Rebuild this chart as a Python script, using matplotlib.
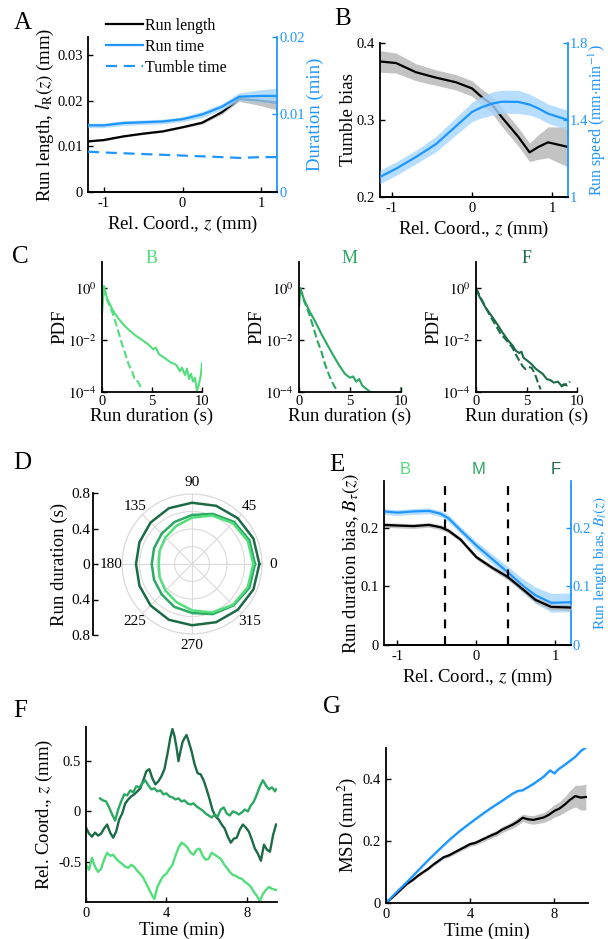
import numpy as np
import matplotlib
matplotlib.use('Agg')
import matplotlib.pyplot as plt

plt.rcParams['font.family'] = ['Liberation Serif', 'DejaVu Serif']
plt.rcParams['mathtext.fontset'] = 'stix'
plt.rcParams['xtick.direction'] = 'in'
plt.rcParams['ytick.direction'] = 'in'
plt.rcParams['axes.linewidth'] = 1.3
plt.rcParams['xtick.major.width'] = 1.0
plt.rcParams['ytick.major.width'] = 1.0
plt.rcParams['xtick.major.size'] = 3.5
plt.rcParams['ytick.major.size'] = 3.5
plt.rcParams['xtick.labelsize'] = 10.5
plt.rcParams['ytick.labelsize'] = 10.5
plt.rcParams['axes.labelsize'] = 13.5

# ---------------- data ----------------
# Panel A
zA = [-1.2, -1.0, -0.75, -0.5, -0.25, 0.0, 0.25, 0.5, 0.72, 1.0, 1.2]
run_length = [0.0111, 0.0114, 0.0122, 0.0128, 0.0133, 0.0142, 0.0152, 0.0175, 0.0204, 0.0200, 0.0196]
run_length_err = [0.0002, 0.0002, 0.0002, 0.0002, 0.0002, 0.0002, 0.0003, 0.0004, 0.0005, 0.0011, 0.0016]
run_time = [0.0086, 0.0086, 0.0089, 0.0090, 0.0091, 0.0094, 0.0100, 0.0110, 0.0123, 0.0124, 0.0124]
run_time_err = [0.0003, 0.0003, 0.0003, 0.0003, 0.0003, 0.0003, 0.0004, 0.0004, 0.0005, 0.0008, 0.0010]
tumble_time = [0.0052, 0.0051, 0.0050, 0.0049, 0.0048, 0.0047, 0.0046, 0.0045, 0.0044, 0.0045, 0.0045]

# Panel B
zB = [-1.15, -0.95, -0.7, -0.45, -0.2, 0.0, 0.12, 0.25, 0.37, 0.58, 0.72, 0.83, 0.95, 1.2]
tumble_bias = [0.376, 0.374, 0.362, 0.355, 0.349, 0.341, 0.330, 0.320, 0.304, 0.278, 0.258, 0.265, 0.271, 0.265]
tumble_bias_err = [0.014, 0.013, 0.011, 0.010, 0.010, 0.010, 0.010, 0.011, 0.012, 0.012, 0.012, 0.016, 0.020, 0.026]
run_speed = [1.104, 1.147, 1.208, 1.275, 1.368, 1.442, 1.466, 1.485, 1.495, 1.494, 1.480, 1.460, 1.433, 1.400]
run_speed_err = [0.035, 0.035, 0.035, 0.040, 0.045, 0.050, 0.055, 0.060, 0.060, 0.060, 0.055, 0.050, 0.050, 0.050]

# Panel C (log10 PDF)
regions = ['B', 'M', 'F']
tB_solid = [0, 0.2, 0.5, 1.1, 1.6, 2.25, 2.8, 3.4, 4.0, 4.6, 5.1, 5.4, 5.7, 6.3, 6.9, 7.4, 7.8, 8.0, 8.3, 8.5, 8.7, 8.9, 9.1, 9.3, 9.5, 9.7, 9.9, 10.0]
lB_solid = [-1.0, 0.08, -0.4, -0.87, -1.15, -1.45, -1.65, -1.84, -2.0, -2.16, -2.35, -2.3, -2.55, -2.7, -2.87, -2.95, -3.2, -3.06, -3.35, -3.1, -3.5, -3.3, -3.6, -3.45, -3.95, -3.7, -3.3, -2.9]
tB_dash = [0.1, 0.5, 1.1, 1.5, 1.9, 2.3, 2.65, 3.0, 3.3, 3.6, 4.0]
lB_dash = [0.0, -0.45, -1.0, -1.5, -2.03, -2.5, -2.93, -3.2, -3.55, -3.6, -3.9]
tM_solid = [0, 0.12, 0.5, 1.0, 1.6, 2.2, 2.8, 3.3, 3.9, 4.5, 5.0, 5.3, 5.6, 5.9, 6.2, 6.5, 7.0, 7.5, 8.0]
lM_solid = [-0.75, 0.0, -0.45, -0.87, -1.3, -1.77, -2.2, -2.55, -2.95, -3.3, -3.45, -3.4, -3.6, -3.5, -3.75, -3.85, -4.0, -4.3, -4.6]
tM_dash = [0.12, 0.5, 1.0, 1.4, 1.8, 2.2, 2.55, 2.9, 3.2, 3.5, 3.8, 4.2]
lM_dash = [0.0, -0.5, -1.0, -1.5, -2.03, -2.45, -2.93, -3.3, -3.58, -3.8, -4.0, -4.3]
tM_tail = [9.95, 10.0]
lM_tail = [-4.2, -3.85]
tF_solid = [0, 0.3, 0.94, 1.5, 2.1, 2.6, 3.2, 3.6, 3.96, 4.3, 4.5, 4.7, 5.1, 5.5, 5.9, 6.2, 6.6, 7.0, 7.4, 7.7, 8.1, 8.5, 8.9]
lF_solid = [0.0, -0.3, -0.75, -1.05, -1.39, -1.7, -2.03, -2.2, -2.42, -2.5, -2.45, -2.68, -2.8, -2.93, -3.1, -3.19, -3.3, -3.5, -3.55, -3.64, -3.6, -3.77, -3.7]
tF_dash = [0, 0.5, 1.3, 1.9, 2.45, 3.0, 3.6, 4.0, 4.3, 4.6, 4.9, 5.2, 5.5, 5.85, 6.1, 6.4]
lF_dash = [0.0, -0.4, -1.0, -1.4, -1.77, -2.0, -2.29, -2.6, -2.8, -3.0, -3.12, -3.05, -3.06, -3.32, -3.6, -3.9]
tF_dash2 = [8.4, 8.7, 9.0, 9.3]
lF_dash2 = [-3.8, -3.7, -3.75, -3.6]

# Panel D (polar run duration vs angle)
theta_deg = [0, 22.5, 45, 67.5, 90, 112.5, 135, 157.5, 180, 202.5, 225, 247.5, 270, 292.5, 315, 337.5]
dur_F = [0.77, 0.76, 0.74, 0.72, 0.70, 0.69, 0.67, 0.65, 0.64, 0.65, 0.67, 0.69, 0.70, 0.72, 0.74, 0.76]
dur_M = [0.72, 0.71, 0.68, 0.62, 0.56, 0.52, 0.49, 0.47, 0.46, 0.47, 0.49, 0.53, 0.56, 0.62, 0.67, 0.71]
dur_B = [0.70, 0.69, 0.66, 0.60, 0.53, 0.47, 0.43, 0.40, 0.38, 0.40, 0.43, 0.47, 0.53, 0.60, 0.66, 0.69]

# Panel E
zE = [-1.17, -1.0, -0.8, -0.6, -0.45, -0.35, -0.2, 0.0, 0.2, 0.4, 0.6, 0.75, 0.95, 1.2]
dur_bias = [0.205, 0.204, 0.203, 0.205, 0.201, 0.195, 0.180, 0.150, 0.132, 0.116, 0.094, 0.077, 0.065, 0.064]
dur_bias_err = [0.004, 0.004, 0.004, 0.004, 0.004, 0.004, 0.004, 0.004, 0.004, 0.005, 0.005, 0.005, 0.005, 0.005]
len_bias = [0.228, 0.226, 0.228, 0.229, 0.224, 0.216, 0.196, 0.170, 0.147, 0.124, 0.100, 0.085, 0.072, 0.073]
len_bias_err = [0.005, 0.005, 0.005, 0.005, 0.005, 0.006, 0.006, 0.007, 0.008, 0.010, 0.012, 0.014, 0.016, 0.016]
zone_edges = [-0.4, 0.4]
zone_label_x = [-0.9, 0.03, 1.0]

# Panel F (trajectories)
tF_traj = [0, 0.15, 0.3, 0.45, 0.6, 0.75, 0.9, 1.05, 1.2, 1.35, 1.5, 1.65, 1.8, 1.95, 2.1, 2.25, 2.4, 2.55, 2.7,
           2.85, 3.0, 3.15, 3.3, 3.45, 3.6, 3.75, 3.9, 4.05, 4.2, 4.3, 4.4, 4.5, 4.6, 4.7, 4.8, 4.9, 5.0, 5.1, 5.25,
           5.4, 5.55, 5.7, 5.85, 6.0, 6.15, 6.3, 6.45, 6.6, 6.75, 6.9, 7.05, 7.2, 7.35, 7.5, 7.65, 7.8, 7.95, 8.1,
           8.25, 8.4, 8.55, 8.7, 8.85, 9.0, 9.15, 9.3, 9.45]
zF_traj = [-0.16, -0.22, -0.25, -0.21, -0.24, -0.22, -0.17, -0.13, -0.21, -0.26, -0.20, -0.08, -0.02, 0.08, 0.12,
           0.15, 0.17, 0.20, 0.23, 0.31, 0.40, 0.42, 0.33, 0.27, 0.30, 0.35, 0.42, 0.57, 0.74, 0.82, 0.75, 0.64,
           0.50, 0.60, 0.69, 0.73, 0.76, 0.70, 0.60, 0.47, 0.38, 0.37, 0.31, 0.22, 0.12, 0.01, -0.05, -0.08, -0.13,
           -0.17, -0.25, -0.31, -0.27, -0.26, -0.18, -0.13, -0.16, -0.20, -0.28, -0.37, -0.42, -0.49, -0.33, -0.38,
           -0.40, -0.24, -0.13]
tM_traj = [0.7, 0.85, 1.0, 1.15, 1.3, 1.45, 1.6, 1.75, 1.9, 2.05, 2.2, 2.35, 2.5, 2.65, 2.8, 2.95, 3.1, 3.25, 3.4,
           3.55, 3.7, 3.85, 4.0, 4.15, 4.3, 4.45, 4.6, 4.75, 4.9, 5.05, 5.2, 5.35, 5.5, 5.65, 5.8, 5.95, 6.1, 6.25,
           6.4, 6.55, 6.7, 6.85, 7.0, 7.15, 7.3, 7.45, 7.6, 7.75, 7.9, 8.05, 8.2, 8.35, 8.5, 8.65, 8.8, 8.95, 9.1,
           9.25, 9.4, 9.45]
zM_traj = [0.13, 0.11, 0.10, 0.04, -0.03, -0.09, 0.02, 0.10, 0.17, 0.16, 0.21, 0.19, 0.25, 0.24, 0.28, 0.31, 0.26,
           0.22, 0.23, 0.20, 0.21, 0.17, 0.18, 0.15, 0.14, 0.12, 0.13, 0.10, 0.11, 0.08, 0.07, 0.08, 0.05, 0.03, 0.01,
           -0.02, -0.04, -0.06, -0.03, -0.05, 0.02, 0.04, -0.02, -0.04, 0.00, -0.01, -0.03, -0.01, 0.02, 0.00, 0.06,
           0.10, 0.17, 0.25, 0.31, 0.26, 0.22, 0.24, 0.20, 0.22]
tB_traj = [0, 0.15, 0.3, 0.45, 0.6, 0.75, 0.9, 1.05, 1.2, 1.35, 1.5, 1.65, 1.8, 1.95, 2.1, 2.25, 2.4, 2.55, 2.7,
           2.85, 3.0, 3.15, 3.3, 3.4, 3.55, 3.7, 3.85, 4.0, 4.15, 4.3, 4.45, 4.6, 4.75, 4.9, 5.05, 5.2, 5.35, 5.5,
           5.65, 5.8, 5.95, 6.1, 6.25, 6.4, 6.55, 6.7, 6.85, 7.0, 7.15, 7.3, 7.45, 7.6, 7.75, 7.9, 8.05, 8.2, 8.35,
           8.5, 8.65, 8.8, 8.95, 9.1, 9.25, 9.45]
zB_traj = [-0.53, -0.58, -0.46, -0.55, -0.60, -0.57, -0.48, -0.41, -0.44, -0.43, -0.47, -0.50, -0.52, -0.55, -0.56,
           -0.53, -0.55, -0.59, -0.62, -0.66, -0.72, -0.78, -0.84, -0.87, -0.75, -0.69, -0.64, -0.62, -0.57, -0.53,
           -0.44, -0.36, -0.31, -0.33, -0.36, -0.41, -0.43, -0.38, -0.37, -0.44, -0.48, -0.47, -0.41, -0.43, -0.45,
           -0.47, -0.52, -0.56, -0.60, -0.63, -0.64, -0.66, -0.67, -0.70, -0.72, -0.75, -0.80, -0.84, -0.89, -0.82,
           -0.78, -0.75, -0.77, -0.78]

# Panel G (MSD)
tG_blue = [0, 0.5, 1, 1.5, 2, 2.5, 3, 3.5, 4, 4.5, 5, 5.5, 6, 6.25, 6.5, 7, 7.5, 7.8, 8.0, 8.2, 8.5, 9, 9.25, 9.5]
msd_blue = [0.0, 0.035, 0.068, 0.103, 0.138, 0.171, 0.203, 0.232, 0.258, 0.283, 0.307, 0.329, 0.352, 0.361, 0.364,
            0.384, 0.408, 0.428, 0.418, 0.432, 0.446, 0.472, 0.490, 0.502]
tG_black = [0, 0.25, 0.5, 0.75, 1, 1.25, 1.5, 1.75, 2, 2.25, 2.5, 2.75, 3, 3.25, 3.5, 3.75, 4, 4.25, 4.5, 4.75, 5,
            5.25, 5.5, 5.75, 6, 6.25, 6.5, 6.75, 7, 7.25, 7.5, 7.75, 8, 8.25, 8.5, 8.75, 9, 9.25, 9.5]
msd_black = [0.0, 0.015, 0.030, 0.046, 0.062, 0.073, 0.087, 0.099, 0.110, 0.124, 0.136, 0.148, 0.154, 0.163, 0.172,
             0.181, 0.190, 0.194, 0.202, 0.210, 0.218, 0.225, 0.236, 0.244, 0.252, 0.262, 0.275, 0.270, 0.268, 0.272,
             0.276, 0.285, 0.297, 0.305, 0.318, 0.333, 0.345, 0.340, 0.342]
msd_black_err = [0.0, 0.001, 0.002, 0.002, 0.003, 0.003, 0.004, 0.004, 0.004, 0.005, 0.005, 0.005, 0.006, 0.006,
                 0.006, 0.007, 0.007, 0.007, 0.008, 0.008, 0.009, 0.009, 0.010, 0.010, 0.011, 0.012, 0.012, 0.013,
                 0.014, 0.015, 0.016, 0.018, 0.020, 0.022, 0.025, 0.030, 0.035, 0.040, 0.042]

# ---------------- style ----------------
BLUE = '#1E96FF'
BLUE_BAND = '#A6D6FF'
GRAY_BAND = '#B4B4B4'
GREENS = {'B': '#52DE7C', 'M': '#2BA862', 'F': '#1C6B47'}

W, H = 608, 939
fig = plt.figure(figsize=(W / 100, H / 100), dpi=100)


def add_ax(l, t, r, b, **kw):
    return fig.add_axes([l / W, 1 - b / H, (r - l) / W, (b - t) / H], **kw)


def letter(x, y, s):
    fig.text(x / W, 1 - y / H, s, fontsize=18, ha='center', va='center')


def basic(ax):
    ax.spines['top'].set_visible(False)
    ax.spines['right'].set_visible(False)


xlab = 'Rel. Coord., $z$ (mm)'

# ---------------- A ----------------
axA = add_ax(88, 37, 277, 192)
basic(axA)
rl = np.array(run_length); rle = np.array(run_length_err)
axA.fill_between(zA, rl - rle, rl + rle, color=GRAY_BAND, alpha=0.8, lw=0)
hA1, = axA.plot(zA, run_length, color='k', lw=1.6)
axA.set_xlim(-1.2, 1.2)
axA.set_ylim(0, 0.034)
axA.set_xticks([-1, 0, 1]); axA.set_xticklabels(['-1', '0', '1'])
axA.set_yticks([0, 0.01, 0.02, 0.03]); axA.set_yticklabels(['0', '0.01', '0.02', '0.03'])
axA.set_ylabel('Run length, $l_{\\rm R}(z)$ (mm)', labelpad=1)
axA.set_xlabel(xlab, labelpad=3)
axA2 = axA.twinx()
axA2.spines['top'].set_visible(False)
axA2.spines['left'].set_visible(False)
axA2.spines['right'].set_color(BLUE)
rt = np.array(run_time); rte = np.array(run_time_err)
axA2.fill_between(zA, rt - rte, rt + rte, color=BLUE_BAND, alpha=0.8, lw=0)
hA2, = axA2.plot(zA, run_time, color=BLUE, lw=1.6)
hA3, = axA2.plot(zA, tumble_time, color=BLUE, lw=1.6, ls=(0, (5, 3)))
axA2.set_ylim(0, 0.02)
axA2.set_yticks([0, 0.01, 0.02]); axA2.set_yticklabels(['0', '0.01', '0.02'])
axA2.tick_params(axis='y', colors=BLUE, pad=2)
axA2.set_ylabel('Duration (min)', color=BLUE, labelpad=1)
fig.legend([hA1, hA2, hA3], ['Run length', 'Run time', 'Tumble time'], loc='upper left',
           bbox_to_anchor=(106 / W, 1 - 18 / H), frameon=False, fontsize=11.5, handlelength=2.3,
           handletextpad=0.15, labelspacing=0.3, borderpad=0, borderaxespad=0)

# ---------------- B ----------------
axB = add_ax(380, 43, 568, 197)
basic(axB)
tb = np.array(tumble_bias); tbe = np.array(tumble_bias_err)
axB.fill_between(zB, tb - tbe, tb + tbe, color=GRAY_BAND, alpha=0.8, lw=0)
axB.plot(zB, tumble_bias, color='k', lw=1.6)
axB.set_xlim(-1.15, 1.2)
axB.set_ylim(0.2, 0.4)
axB.set_xticks([-1, 0, 1]); axB.set_xticklabels(['-1', '0', '1'])
axB.set_yticks([0.2, 0.3, 0.4]); axB.set_yticklabels(['0.2', '0.3', '0.4'])
axB.set_ylabel('Tumble bias', labelpad=0)
axB.set_xlabel(xlab, labelpad=3)
axB2 = axB.twinx()
axB2.spines['top'].set_visible(False)
axB2.spines['left'].set_visible(False)
axB2.spines['right'].set_color(BLUE)
rs = np.array(run_speed); rse = np.array(run_speed_err)
axB2.fill_between(zB, rs - rse, rs + rse, color=BLUE_BAND, alpha=0.8, lw=0)
axB2.plot(zB, run_speed, color=BLUE, lw=1.6)
axB2.set_ylim(1.0, 1.8)
axB2.set_yticks([1.0, 1.4, 1.8]); axB2.set_yticklabels(['1', '1.4', '1.8'])
axB2.tick_params(axis='y', colors=BLUE, pad=1.5)
axB2.set_ylabel('Run speed (mm$\\cdot$min$^{-1}$)', color=BLUE, labelpad=-1, fontsize=11.5)

# ---------------- C ----------------
c_pos = [(102, 202), (299, 401), (476, 577)]
c_data = {
    'B': [(tB_solid, lB_solid, '-'), (tB_dash, lB_dash, '--')],
    'M': [(tM_solid, lM_solid, '-'), (tM_dash, lM_dash, '--'), (tM_tail, lM_tail, '-')],
    'F': [(tF_solid, lF_solid, '-'), (tF_dash, lF_dash, '--'), (tF_dash2, lF_dash2, '--')],
}
for (l, r), reg in zip(c_pos, regions):
    ax = add_ax(l, 262, r, 392)
    basic(ax)
    for t, lv, ls in c_data[reg]:
        ax.plot(t, 10.0 ** np.array(lv), color=GREENS[reg], lw=1.5, ls=ls)
    ax.set_yscale('log')
    ax.set_ylim(1e-4, 10)
    ax.set_xlim(0, 10)
    ax.set_yticks([1e-4, 1e-2, 1])
    ax.set_yticklabels(['$10^{-4}$', '$10^{-2}$', '$10^{0}$'])
    ax.minorticks_off()
    ax.set_xticks([0, 5, 10]); ax.set_xticklabels(['0', '5', '10'])
    ax.tick_params(axis='y', labelsize=10.5, pad=3.5)
    ax.tick_params(axis='x', labelsize=10.5, pad=2)
    ax.set_ylabel('PDF', labelpad=0)
    ax.set_xlabel('Run duration (s)', labelpad=0)
    ax.text(0.5, 1.03, reg, transform=ax.transAxes, ha='center', va='center', color=GREENS[reg], fontsize=13)

# ---------------- D ----------------
axDs = add_ax(93, 493, 100, 635)
for s in ['top', 'right', 'bottom']:
    axDs.spines[s].set_visible(False)
axDs.set_xticks([])
axDs.set_ylim(-0.8, 0.8)
axDs.set_yticks([-0.8, -0.4, 0, 0.4, 0.8])
axDs.set_yticklabels(['0.8', '0.4', '0', '0.4', '0.8'])
axDs.tick_params(axis='y', labelsize=11, pad=2)
axDs.set_ylabel('Run duration (s)', labelpad=2)
axDs.patch.set_visible(False)

axD = add_ax(122, 494, 262, 634, projection='polar')
th = np.deg2rad(theta_deg + [theta_deg[0]])
for vals, reg in [(dur_F, 'F'), (dur_M, 'M'), (dur_B, 'B')]:
    axD.plot(th, vals + [vals[0]], color=GREENS[reg], lw=1.8)
axD.set_rlim(0, 0.8)
axD.set_rticks([0.2, 0.4, 0.6, 0.8])
axD.set_yticklabels([])
axD.set_thetagrids([0, 45, 90, 135, 180, 225, 270, 315],
                   labels=['0', '45', '90', '135', '180', '225', '270', '315'])
axD.tick_params(axis='x', labelsize=11, pad=1)
axD.grid(color='#DADADA', lw=0.8)
axD.spines['polar'].set_color('#DADADA')
axD.spines['polar'].set_linewidth(0.8)

# ---------------- E ----------------
axE = add_ax(384, 481, 571, 645)
basic(axE)
db = np.array(dur_bias); dbe = np.array(dur_bias_err)
lb = np.array(len_bias); lbe = np.array(len_bias_err)
axE.fill_between(zE, db - dbe, db + dbe, color=GRAY_BAND, alpha=0.8, lw=0)
axE.plot(zE, dur_bias, color='k', lw=1.6, zorder=3)
for xe in zone_edges:
    axE.axvline(xe, color='k', lw=1.6, ls=(0, (4, 3.5)))
axE.set_xlim(-1.17, 1.2)
axE.set_ylim(0, 0.28)
axE.set_xticks([-1, 0, 1]); axE.set_xticklabels(['-1', '0', '1'])
axE.set_yticks([0, 0.1, 0.2]); axE.set_yticklabels(['0', '0.1', '0.2'])
axE.set_ylabel('Run duration bias, $B_{\\tau}(z)$', labelpad=0)
axE.set_xlabel(xlab, labelpad=3)
for xl, reg in zip(zone_label_x, regions):
    axE.text(xl, 1.07, reg, transform=axE.get_xaxis_transform(), ha='center', va='center',
             color=GREENS[reg], fontsize=12, family='Liberation Sans')
axE2 = axE.twinx()
axE2.spines['top'].set_visible(False)
axE2.spines['left'].set_visible(False)
axE2.spines['right'].set_color(BLUE)
axE2.fill_between(zE, lb - lbe, lb + lbe, color=BLUE_BAND, alpha=0.8, lw=0)
axE2.plot(zE, len_bias, color=BLUE, lw=1.6)
axE2.set_ylim(0, 0.28)
axE2.set_yticks([0, 0.1, 0.2]); axE2.set_yticklabels(['0', '0.1', '0.2'])
axE2.tick_params(axis='y', colors=BLUE, pad=1)
axE2.set_ylabel('Run length bias, $B_l(z)$', color=BLUE, labelpad=0, fontsize=11)
axE.set_zorder(axE2.get_zorder() + 1)
axE.patch.set_visible(False)

# ---------------- F ----------------
axF = add_ax(86, 727, 277, 902)
basic(axF)
axF.plot(tF_traj, zF_traj, color=GREENS['F'], lw=1.7)
axF.plot(tM_traj, zM_traj, color=GREENS['M'], lw=1.7)
axF.plot(tB_traj, zB_traj, color=GREENS['B'], lw=1.7)
axF.set_xlim(0, 9.5)
axF.set_ylim(-0.9, 0.84)
axF.set_xticks([0, 4, 8]); axF.set_xticklabels(['0', '4', '8'])
axF.set_yticks([-0.5, 0, 0.5]); axF.set_yticklabels(['-0.5', '0', '0.5'])
axF.set_ylabel(xlab, labelpad=2)
axF.set_xlabel('Time (min)', labelpad=1)

# ---------------- G ----------------
axG = add_ax(386, 748, 588, 903)
basic(axG)
mb = np.array(msd_black); mbe = np.array(msd_black_err)
axG.fill_between(tG_black, mb - mbe, mb + mbe, color=GRAY_BAND, alpha=0.8, lw=0)
axG.plot(tG_black, msd_black, color='k', lw=1.6)
mbl = np.array(msd_blue)
axG.fill_between(tG_blue, mbl - 0.004, mbl + 0.004, color=BLUE_BAND, alpha=0.8, lw=0)
axG.plot(tG_blue, msd_blue, color=BLUE, lw=1.6)
axG.set_xlim(0, 9.6)
axG.set_ylim(0, 0.5)
axG.set_xticks([0, 4, 8]); axG.set_xticklabels(['0', '4', '8'])
axG.set_yticks([0, 0.2, 0.4]); axG.set_yticklabels(['0', '0.2', '0.4'])
axG.set_ylabel('MSD (mm$^2$)', labelpad=3)
axG.set_xlabel('Time (min)', labelpad=1)

# letters
letter(23, 23, 'A')
letter(343, 19, 'B')
letter(20, 257, 'C')
letter(22, 463, 'D')
letter(337, 465, 'E')
letter(20, 711, 'F')
letter(332, 707, 'G')

fig.savefig('out.png', dpi=100)
